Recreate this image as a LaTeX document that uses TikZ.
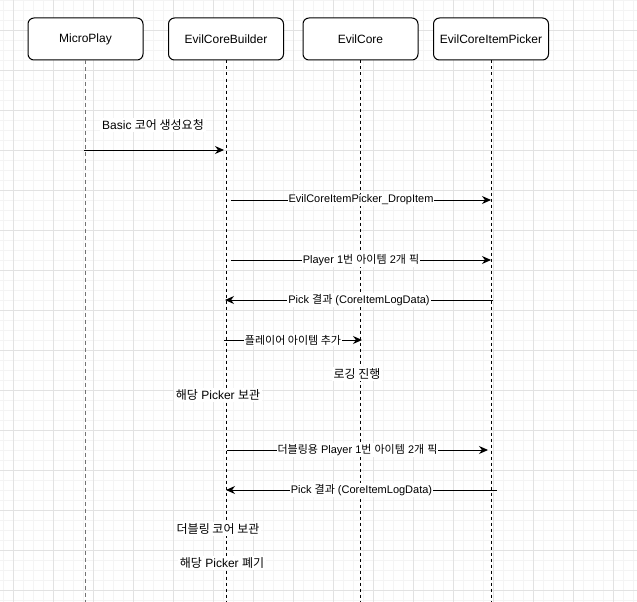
\documentclass[tikz,border=0pt]{standalone}
\usepackage{fontspec}
\setmainfont{Liberation Sans}
\newfontfamily\kr{Noto Sans CJK KR}
\usetikzlibrary{arrows.meta}
\definecolor{gridminor}{HTML}{F4F4F4}
\definecolor{gridmajor}{HTML}{E2E2E2}
\tikzset{
  actor/.style={draw=black, line width=1pt, rounded corners=6pt, fill=white,
    minimum width=115pt, minimum height=42pt, inner sep=0pt, font=\fontsize{12}{14}\selectfont},
  lifeline/.style={draw=black, line width=0.9pt, dash pattern=on 3pt off 3pt},
  lifelinegrey/.style={draw=black!55, line width=1.6pt, dash pattern=on 4pt off 3pt},
  msg/.style={draw=black, line width=1pt, -{Stealth[length=9pt,width=8pt]}},
  msglabel/.style={fill=white, inner sep=1pt, font=\fontsize{11}{13}\selectfont},
  note/.style={fill=white, inner sep=2pt, font=\fontsize{12}{14}\selectfont},
}
\begin{document}
\begin{tikzpicture}[x=1pt,y=-1pt]
\useasboundingbox (0,0) rectangle (637,602);
% grid
\foreach \gx in {3,13,...,633} \draw[gridminor, line width=0.8pt] (\gx,0) -- (\gx,602);
\foreach \gy in {0,10,...,600} \draw[gridminor, line width=0.8pt] (0,\gy) -- (637,\gy);
\foreach \gx in {13,53,...,633} \draw[gridmajor, line width=0.9pt] (\gx,0) -- (\gx,602);
\foreach \gy in {30,70,...,590} \draw[gridmajor, line width=0.9pt] (0,\gy) -- (637,\gy);

% actors
\node[actor] (mp)  at (85.5,39)  {MicroPlay};
\node[actor] (ecb) at (226,39)   {EvilCoreBuilder};
\node[actor] (ec)  at (360.5,39) {EvilCore};
\node[actor] (ecp) at (491,39)   {EvilCoreItemPicker};

% lifeline ends
\coordinate (mpend)  at (85.5,602);
\coordinate (ecbend) at (226,602);
\coordinate (ecend)  at (360.5,602);
\coordinate (ecpend) at (491,602);
\draw[lifelinegrey] (mp.south) -- (mpend);
\draw[lifeline] (ecb.south) -- (ecbend);
\draw[lifeline] (ec.south) -- (ecend);
\draw[lifeline] (ecp.south) -- (ecpend);

% message endpoints
\coordinate (a0) at (84,150);  \coordinate (b0) at (224,150);
\coordinate (a1) at (231,200); \coordinate (b1) at (491,200);
\coordinate (a2) at (231,260); \coordinate (b2) at (491,260);
\coordinate (a3) at (493,300); \coordinate (b3) at (225,300);
\coordinate (a4) at (224,340); \coordinate (b4) at (362,340);
\coordinate (a5) at (227,450); \coordinate (b5) at (488,450);
\coordinate (a6) at (497,490); \coordinate (b6) at (226,490);

\draw[msg] (a0) -- (b0);
\draw[msg] (a1) -- node[msglabel] {EvilCoreItemPicker\_DropItem} (b1);
\draw[msg] (a2) -- node[msglabel] {Player 1{\kr 번} {\kr 아이템} 2{\kr 개} {\kr 픽}} (b2);
\draw[msg] (a3) -- node[msglabel] {Pick {\kr 결과} (CoreItemLogData)} (b3);
\draw[msg] (a4) -- node[msglabel] {{\kr 플레이어 아이템 추가}} (b4);
\draw[msg] (a5) -- node[msglabel] {{\kr 더블링용} Player 1{\kr 번} {\kr 아이템} 2{\kr 개} {\kr 픽}} (b5);
\draw[msg] (a6) -- node[msglabel] {Pick {\kr 결과} (CoreItemLogData)} (b6);

% notes
\node[note] (n0) at (153,125) {Basic {\kr 코어 생성요청}};
\node[note] (n1) at (357,374) {{\kr 로깅 진행}};
\node[note] (n2) at (218,395) {{\kr 해당} Picker {\kr 보관}};
\node[note] (n3) at (218,529) {{\kr 더블링 코어 보관}};
\node[note] (n4) at (222,563) {{\kr 해당} Picker {\kr 폐기}};
\end{tikzpicture}
\end{document}
